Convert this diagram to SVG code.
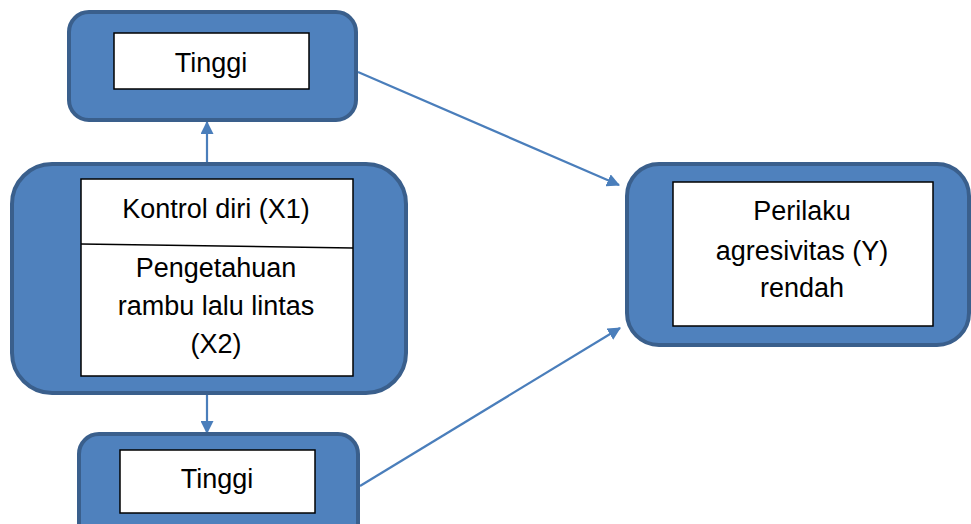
<svg xmlns="http://www.w3.org/2000/svg" width="971" height="524" viewBox="0 0 971 524">
<defs>
<style>
.outer{fill:#4F81BD;stroke:#3A5F8C;stroke-width:4}
.inner{fill:#FFFFFF;stroke:#000000;stroke-width:1.5}
.t{font-family:"Liberation Sans",Arial,sans-serif;font-size:27px;fill:#000;text-anchor:middle}
.c{stroke:#4A7EBB;stroke-width:2.2;fill:none}
</style>
<marker id="ah" viewBox="0 0 12 12" refX="11" refY="6" markerWidth="13" markerHeight="13" markerUnits="userSpaceOnUse" orient="auto">
<path d="M0,0 L12,6 L0,12 Z" fill="#4A7EBB"/>
</marker>
</defs>
<rect width="971" height="524" fill="#FFFFFF"/>
<g id="connectors">
<line class="c" x1="207" y1="163" x2="207" y2="122" marker-end="url(#ah)"/>
<line class="c" x1="207" y1="393" x2="207" y2="433" marker-end="url(#ah)"/>
<line class="c" x1="358" y1="72" x2="619" y2="185" marker-end="url(#ah)"/>
<line class="c" x1="360" y1="486" x2="620" y2="328" marker-end="url(#ah)"/>
</g>
<g id="node-top">
<rect class="outer" x="69" y="12" width="287" height="108" rx="20"/>
<rect class="inner" x="114" y="33" width="195" height="56"/>
<text class="t" x="211" y="72">Tinggi</text>
</g>
<g id="node-middle">
<rect class="outer" x="12" y="164" width="394" height="229" rx="40"/>
<rect class="inner" x="81" y="179" width="272" height="197"/>
<line x1="81" y1="244" x2="353" y2="248" stroke="#000" stroke-width="1.5"/>
<text class="t" x="216" y="218">Kontrol diri (X1)</text>
<text class="t" x="216" y="277">Pengetahuan</text>
<text class="t" x="216" y="315">rambu lalu lintas</text>
<text class="t" x="216" y="353">(X2)</text>
</g>
<g id="node-bottom">
<rect class="outer" x="79" y="434" width="279" height="110" rx="20"/>
<rect class="inner" x="120" y="450" width="195" height="63"/>
<text class="t" x="217" y="488">Tinggi</text>
</g>
<g id="node-right">
<rect class="outer" x="627" y="164" width="342" height="181" rx="32"/>
<rect class="inner" x="673" y="182" width="260" height="144"/>
<text class="t" x="802" y="220">Perilaku</text>
<text class="t" x="802" y="260">agresivitas (Y)</text>
<text class="t" x="802" y="297">rendah</text>
</g>
</svg>
